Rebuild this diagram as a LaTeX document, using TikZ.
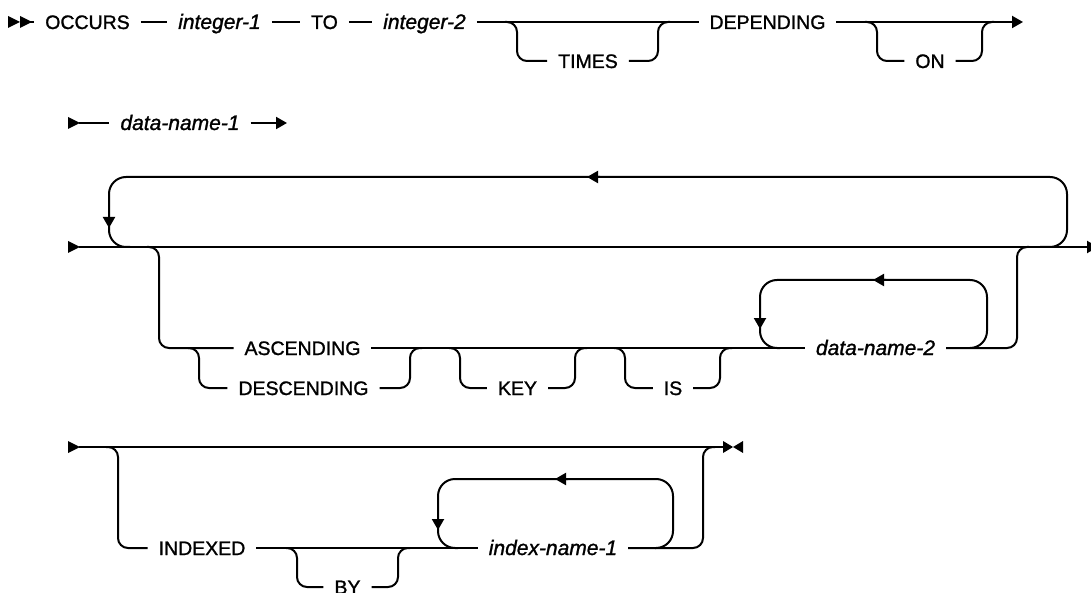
\documentclass[tikz,border=0pt]{standalone}
\usepackage{fontspec}
\setmainfont{Liberation Sans}
\newfontfamily\dfont{Liberation Sans}[FakeBold=1.2,ItalicFeatures={FakeBold=1.2}]
\usetikzlibrary{arrows.meta}
\begin{document}
\begin{tikzpicture}[x=1pt,y=-1pt,line width=2pt,
  rr/.style={rounded corners=10pt},
  rl/.style={rounded corners=17pt},
  arrowend/.style={-{Triangle[length=11pt,width=12pt]}},
  kwd/.style={font=\dfont\fontsize{19.5}{20}\selectfont, inner xsep=10pt, inner ysep=0pt, text height=14pt, text depth=0pt},
  vname/.style={kwd, font=\dfont\fontsize{21}{22}\selectfont\itshape},
]
\useasboundingbox (0,0) rectangle (1091,593);

% ---------- Row 1
\fill (8,16) -- (20,22) -- (8,28) -- cycle;
\fill (20,16) -- (32,22) -- (20,28) -- cycle;
\coordinate (s1) at (30,22);
\coordinate (e1) at (1023,22);
\node[kwd] (occ) at (87.5,22) {OCCURS};
\node[vname] (i1) at (219.5,22) {integer-1};
\node[kwd] (to) at (324.5,22) {TO};
\node[vname] (i2) at (424.5,22) {integer-2};
\node[kwd] (dep) at (767.5,22) {DEPENDING};
\node[kwd] (times) at (588,61) {TIMES};
\node[kwd] (on) at (930,61) {ON};
\draw (s1) -- (occ) -- (i1) -- (to) -- (i2) -- (dep);
\draw[arrowend] (dep) -- (e1);
\draw[rr] (505,22) -- (517,22) -- (517,61) -- (times.west);
\draw[rr] (times.east) -- (658,61) -- (658,22) -- (670,22);
\draw[rr] (865,22) -- (877,22) -- (877,61) -- (on.west);
\draw[rr] (on.east) -- (982,61) -- (982,22) -- (994,22);

% ---------- Row 2
\fill (68,117) -- (80,123) -- (68,129) -- cycle;
\coordinate (s2) at (79,123);
\coordinate (e2) at (287,123);
\node[vname] (dn1) at (180,123) {data-name-1};
\draw (s2) -- (dn1);
\draw[arrowend] (dn1) -- (e2);

% ---------- Row 3
\fill (68,241) -- (80,247) -- (68,253) -- cycle;
\coordinate (s3) at (79,247);
\coordinate (e3) at (1098,247);
\draw[arrowend] (s3) -- (e3);
\draw[rl,arrowend] (1040,247) -- (1067,247) -- (1067,177) -- (587,177);
\draw[rl,arrowend] (600,177) -- (109,177) -- (109,228);
\draw[rl] (109,226) -- (109,247) -- (130,247);

\node[kwd] (asc) at (302.5,348) {ASCENDING};
\node[kwd] (desc) at (303.5,388) {DESCENDING};
\node[kwd] (key) at (517.5,388) {KEY};
\node[kwd] (is) at (673,388) {IS};
\node[vname] (dn2) at (875.5,348) {data-name-2};
\draw[rr] (147,247) -- (159,247) -- (159,348) -- (asc.west);
\draw[rr] (188,348) -- (199,348) -- (199,388) -- (desc.west);
\draw[rr] (desc.east) -- (410,388) -- (410,348) -- (422,348);
\draw (asc) -- (dn2);
\draw[rr] (449,348) -- (460,348) -- (460,388) -- (key.west);
\draw[rr] (key.east) -- (575,388) -- (575,348) -- (587,348);
\draw[rr] (614,348) -- (625,348) -- (625,388) -- (is.west);
\draw[rr] (is.east) -- (720,388) -- (720,348) -- (732,348);
\draw[rl,arrowend] (970,348) -- (987,348) -- (987,280) -- (873,280);
\draw[rl,arrowend] (886,280) -- (760,280) -- (760,329);
\draw[rl] (760,327) -- (760,348) -- (780,348);
\draw[rr] (dn2.east) -- (1017,348) -- (1017,247) -- (1029,247);

% ---------- Row 4
\fill (68,441) -- (80,447) -- (68,453) -- cycle;
\coordinate (s4) at (79,447);
\coordinate (e4) at (723,447);
\draw (s4) -- (e4);
\fill (723,441) -- (733,447) -- (723,453) -- cycle;
\fill (743,441) -- (733,447) -- (743,453) -- cycle;
\node[kwd] (idx) at (202,548) {INDEXED};
\node[kwd] (by) at (347.5,587) {BY};
\node[vname] (in1) at (553,548) {index-name-1};
\draw[rr] (106,447) -- (118,447) -- (118,548) -- (idx.west);
\draw (idx) -- (in1);
\draw[rr] (286,548) -- (297,548) -- (297,587) -- (by.west);
\draw[rr] (by.east) -- (398,587) -- (398,548) -- (410,548);
\draw[rl,arrowend] (655,548) -- (673,548) -- (673,479) -- (555,479);
\draw[rl,arrowend] (568,479) -- (438,479) -- (438,530);
\draw[rl] (438,528) -- (438,548) -- (458,548);
\draw[rr] (in1.east) -- (703,548) -- (703,447) -- (715,447);
\end{tikzpicture}
\end{document}
